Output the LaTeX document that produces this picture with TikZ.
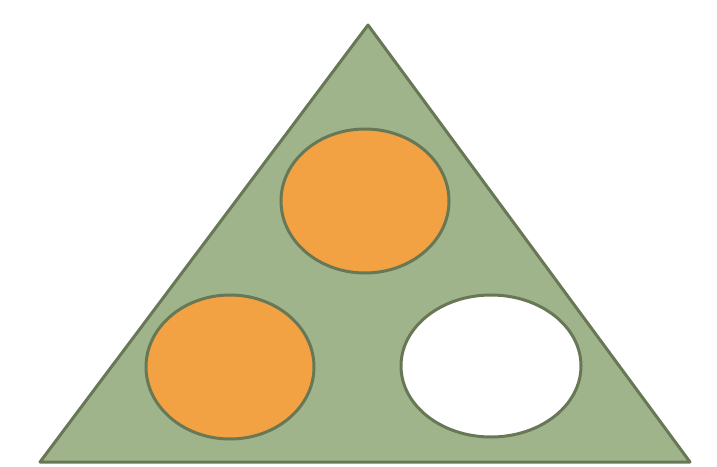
\documentclass[tikz,border=0pt]{standalone}
\definecolor{trifill}{RGB}{160,180,140}
\definecolor{triline}{RGB}{104,120,86}
\definecolor{orangefill}{RGB}{242,162,66}
\tikzset{
  shapeline/.style={draw=triline, line width=3pt, line join=round},
  blob/.style={shapeline}
}
\begin{document}
\begin{tikzpicture}[x=1pt,y=-1pt]
\useasboundingbox (0,0) rectangle (717,466);
\fill[white] (0,0) rectangle (717,466);
\draw[shapeline, fill=trifill] (368,25) -- (690,462) -- (40,462) -- cycle;
\draw[blob, fill=orangefill] (365,201) ellipse [x radius=84, y radius=72];
\draw[blob, fill=orangefill] (230,367) ellipse [x radius=84, y radius=72];
\draw[blob, fill=white] (491,366) ellipse [x radius=90, y radius=71];
\end{tikzpicture}
\end{document}
